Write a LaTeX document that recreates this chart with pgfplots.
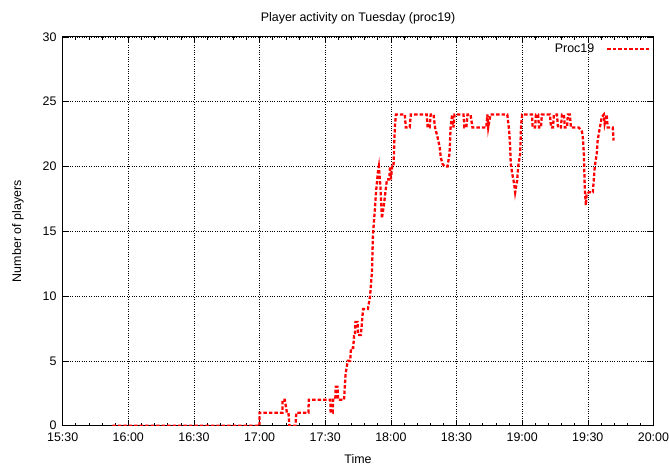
\documentclass[border=0pt]{standalone}
\usepackage{pgfplots}
\pgfplotsset{compat=1.18}
\usepackage{fontspec}
\setmainfont{Liberation Sans}

% minutes counted from 15:30
\pgfplotstableread{
t v
22.7 0
90 0
90 1
100.5 1
100.5 2
101.5 2
102 1.5
102.5 1
103.2 1
103.6 0
106.4 0
106.8 1
112.3 1
112.5 2
122.3 2
122.5 1
123.4 1
123.6 2
124.6 2
124.8 3
125.6 3
125.9 2
128.6 2
129.3 4
130.3 5
131.4 5
131.8 6
132.8 6
133.2 7
133.6 7
133.8 8
134.8 8
135 7
136.3 7
136.8 8
137.3 9
139.5 9
140.5 10
141.4 12
141.8 14.7
142.7 16.7
143.2 18
144.1 19.6
144.5 20
145.2 18.5
145.9 16
146.8 17
147.7 18.3
148.2 19
149.3 19
149.6 20
150 19
150.6 20
151.2 20
151.8 23
152.3 24
156.4 24
156.8 23
158.6 23
159.1 24
166.4 24
166.8 23
167.7 23
168.2 24
169.5 24
170.2 23
171.4 22.2
172.3 21.5
172.8 20.7
173.6 20.2
174.5 20
175.9 20
176.8 21
177.3 23
178 24
178.6 23
179.1 24
183.2 24
183.6 23
184.5 23
185 24
186.4 24
187.3 23
193.6 23
194.1 24
194.5 23
195.5 24
203.2 24
204.1 22.7
204.5 21.5
204.8 20.2
205.5 19.4
206.4 18.6
206.8 18
207.7 18.9
208.2 20
209.1 21
209.5 23.2
210 24
214.5 24
214.8 23
215.9 23
216.3 24
217.3 24
217.7 23
218.6 23
219 24
222.7 24
223.2 23
224.1 23
224.5 24
225.9 24
226.4 23
227.7 23
228.2 24
229.1 24
229.5 23
230.5 23
230.9 24
231.8 24
232.3 23
235.9 23
237.3 22.7
237.7 22.3
238.2 21
238.6 18.4
239.1 17
239.5 17.9
240.5 18
242.3 18
242.7 18.9
243.2 20
244.1 21
244.5 22
245.5 23
246.4 23.8
247.3 24
247.7 23.3
248.6 24
249.1 23
251.4 23
251.8 22
}\proctable

\begin{document}
\begin{tikzpicture}
\begin{axis}[
  scale only axis, width=594bp, height=391bp,
  xmin=0, xmax=270, ymin=0, ymax=30,
  xtick={0,30,...,270},
  xticklabels={15:30,16:00,16:30,17:00,17:30,18:00,18:30,19:00,19:30,20:00},
  minor x tick num=4,
  ytick={0,5,...,30},
  /pgf/number format/assume math mode=true,
  font=\fontsize{12.5bp}{14bp}\selectfont,
  tick align=inside,
  major tick length=6bp, minor tick length=3bp,
  grid=major,
  major grid style={black, dotted, line width=0.6bp},
  axis line style={black, line width=0.8bp},
  tick style={black, line width=0.6bp},
  xticklabel style={anchor=north, inner sep=0pt, yshift=-7bp},
  yticklabel style={anchor=east, inner sep=0pt, xshift=-6bp},
  title={Player activity on Tuesday (proc19)},
  title style={at={(0.5,1)}, anchor=south, inner sep=0pt, yshift=7bp},
  xlabel={Time},
  xlabel style={at={(0.5,0)}, anchor=north, inner sep=0pt, yshift=-29bp},
  ylabel={Number of players},
  ylabel style={at={(0,0.5)}, anchor=center, inner sep=0pt, yshift=45bp},
  legend plot pos=right,
  legend cell align=right,
  legend style={at={(1,1)}, anchor=north east, draw=none, fill=none,
                xshift=1bp, yshift=-3bp, font=\fontsize{12.5bp}{14bp}\selectfont,
                /tikz/every odd column/.append style={column sep=10bp}},
  legend image code/.code={\draw[#1] (0bp,0bp) -- (43bp,0bp);},
]
\addplot[red, line width=2.3bp, dash pattern=on 3.5bp off 2bp, line cap=butt]
  table[x=t, y=v] {\proctable};
\addlegendentry{Proc19}
\end{axis}
\path (current axis.south west) ++(-63bp,-38bp) coordinate (bbsw);
\path (current axis.north east) ++(12bp,37bp) coordinate (bbne);
\path (bbsw) rectangle (bbne);
\end{tikzpicture}
\end{document}
